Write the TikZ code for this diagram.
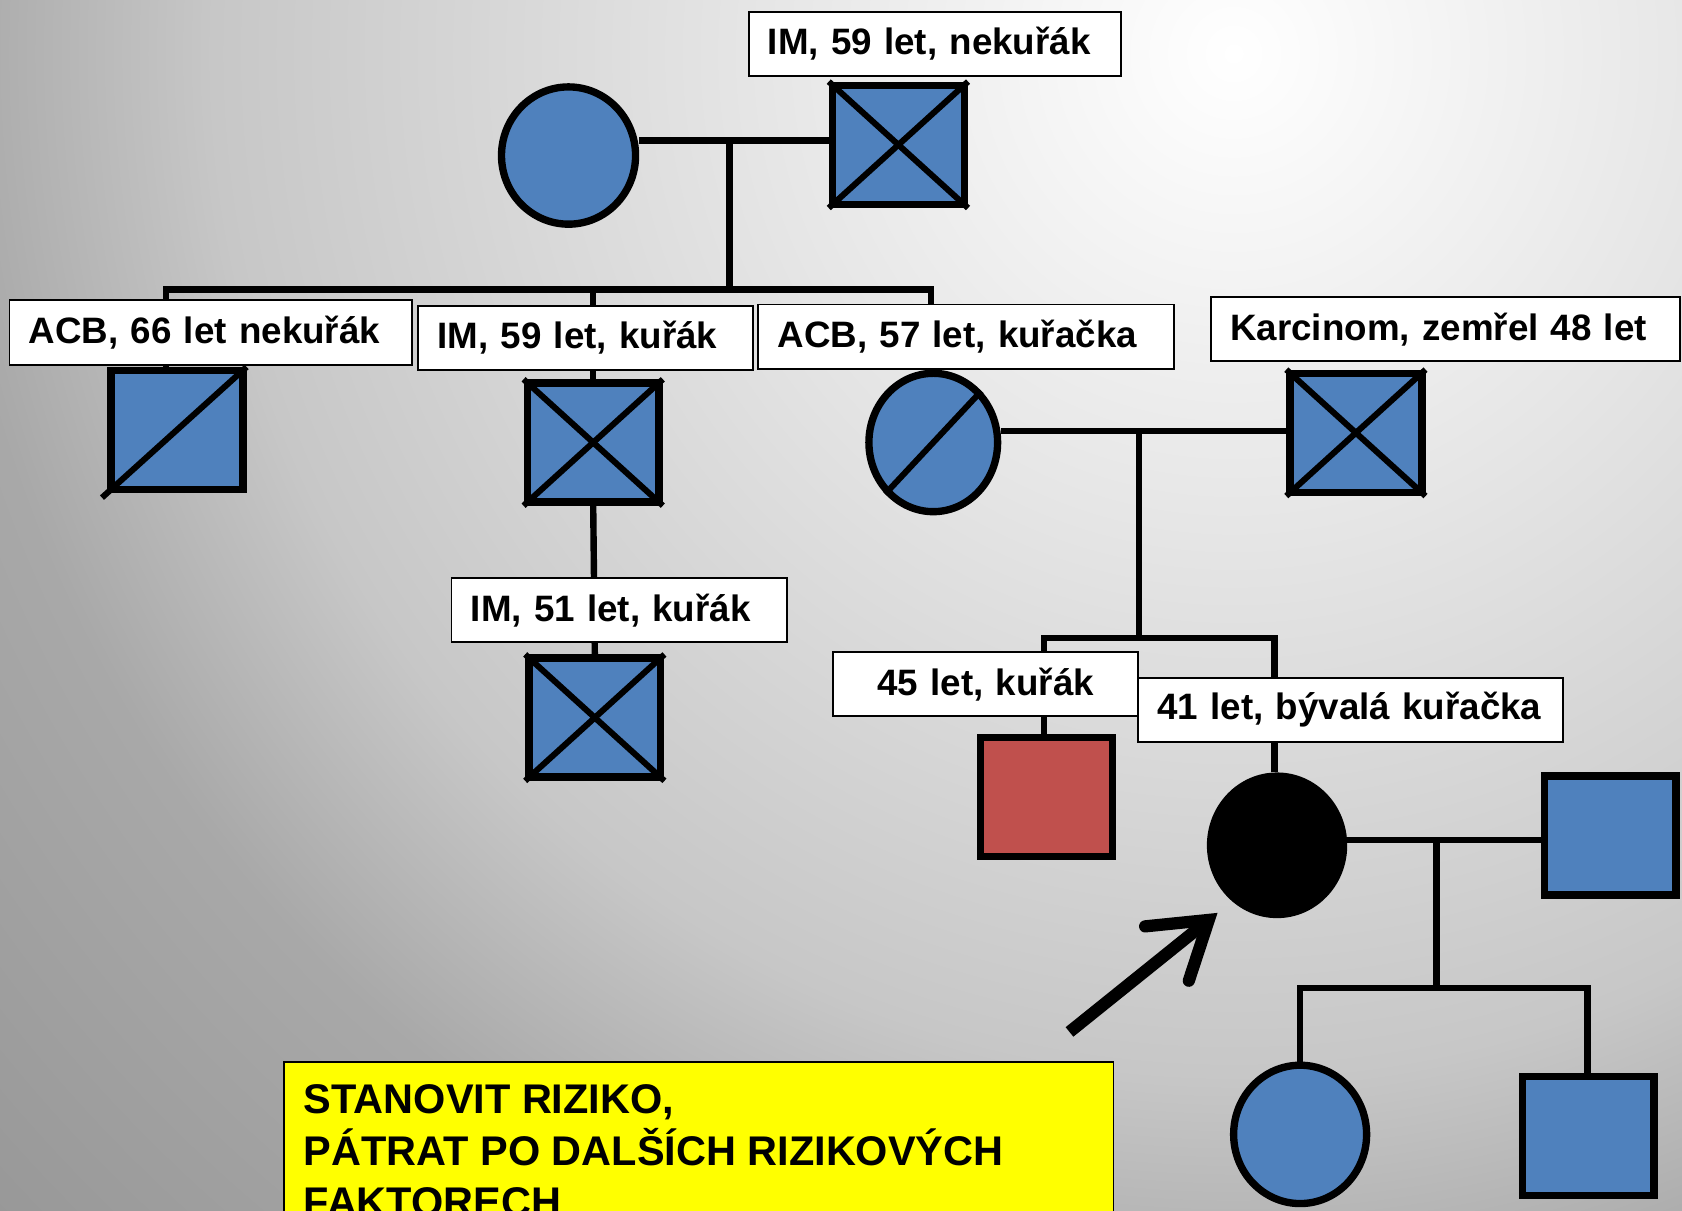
\documentclass[tikz,border=0pt]{standalone}
\usepackage{fontspec}
\setmainfont{Liberation Sans}
\usetikzlibrary{shapes.geometric, arrows.meta}
\definecolor{symblue}{HTML}{4F81BD}
\definecolor{symred}{HTML}{C0504D}
\definecolor{notey}{HTML}{FFFF00}
\pgfdeclareradialshading{bgshade}{\pgfpoint{0bp}{0bp}}{color(0bp)=(white); color(5.6bp)=(black!10); color(11.9bp)=(black!22); color(15bp)=(black!34); color(21bp)=(black!42); color(50bp)=(black!45)}
\tikzstyle{male} = [rectangle, draw=black, line width=3.9pt, fill=symblue, inner sep=0pt, minimum width=2.46cm, minimum height=2.22cm]
\tikzstyle{female} = [ellipse, draw=black, line width=3.9pt, fill=symblue, inner sep=0pt, minimum width=2.48cm, minimum height=2.58cm]
\tikzstyle{lab} = [rectangle, draw=black, line width=1pt, fill=white, anchor=north west, minimum height=1.2cm, inner xsep=0.36cm, inner ysep=0pt, align=left, font=\fontsize{19.5}{23}\selectfont\bfseries]
\tikzstyle{conn} = [line width=3.4pt]
\tikzstyle{cross} = [line width=3.2pt]
\tikzstyle{pointer} = [line width=6.5pt, -{Straight Barb[length=1cm, width=1.3cm, line cap=round, line join=miter]}]

\begin{document}
\begin{tikzpicture}[x=0.02cm, y=-0.02cm]
	\useasboundingbox (0,0) rectangle (1568,1128);
	\begin{scope}
		\clip (0,0) rectangle (1568,1128);
		\shade [shading=bgshade] (1150,50) circle (2000);
	\end{scope}
	\node (matka) [female, minimum width=2.5cm, minimum height=2.56cm] at (530,145) {};
	\node (otec) [male] at (837.5,135) {};
	\node (acb66) [male] at (165,401) {};
	\node (im59) [male] at (553,412.5) {};
	\node (im51) [male] at (554.5,669) {};
	\node (acb57) [female, minimum width=2.4cm] at (870,412.5) {};
	\node (karc) [male] at (1264,403.5) {};
	\node (bratr) [male, fill=symred] at (975.5,743) {};
	\node (proband) [female, fill=black] at (1190.5,788) {};
	\node (manzel) [male] at (1501,779) {};
	\node (dcera) [female] at (1212,1057.5) {};
	\node (syn) [male] at (1480.5,1059) {};
	\draw [cross] (otec.north west) -- (otec.south east);
	\draw [cross] (otec.south west) -- (otec.north east);
	\draw [cross] (im59.north west) -- (im59.south east);
	\draw [cross] (im59.south west) -- (im59.north east);
	\draw [cross] (im51.north west) -- (im51.south east);
	\draw [cross] (im51.south west) -- (im51.north east);
	\draw [cross] (karc.north west) -- (karc.south east);
	\draw [cross] (karc.south west) -- (karc.north east);
	\draw [cross] ([shift={(-5,4)}]acb66.south west) -- (acb66.north east);
	\draw [cross] (acb57.south west) -- (acb57.north east);
	\coordinate (m1) at (680,131);
	\coordinate (s1) at (680,270);
	\coordinate (s1l) at (155,270);
	\coordinate (s1r) at (868,270);
	\coordinate (m2) at (1062,402);
	\coordinate (s2) at (1062,595);
	\coordinate (s2l) at (973,595);
	\coordinate (s2r) at (1188,595);
	\coordinate (m3) at (1339,783);
	\coordinate (s3) at (1339,921);
	\coordinate (s3l) at (1212,921);
	\coordinate (s3r) at (1480,921);
	\coordinate (ptail) at (997,962);
	\coordinate (ptip) at (1135,851);
	\draw [conn] (matka.east |- m1) -- (otec.west |- m1);
	\draw [conn] (m1) -- (s1);
	\draw [conn] (s1l |- acb66.north) -- (s1l) -- (s1r) -- (s1r |- acb57.north);
	\draw [conn] (im59.north |- s1) -- (im59.north);
	\draw [conn] (im59.south) -- (im51.north);
	\draw [conn] (acb57.east |- m2) -- (karc.west |- m2);
	\draw [conn] (m2) -- (s2);
	\draw [conn] (s2l |- bratr.north) -- (s2l) -- (s2r) -- (s2r |- proband.north);
	\draw [conn] (proband.east |- m3) -- (manzel.west |- m3);
	\draw [conn] (m3) -- (s3);
	\draw [conn] (s3l |- dcera.north) -- (s3l) -- (s3r) -- (s3r |- syn.north);
	\draw [pointer] (ptail) -- (ptip);
	\node (l_otec) [lab, text width=6.22cm] at (697,10) {IM, 59 let, nekuřák};
	\node (l_acb66) [lab, text width=6.78cm] at (8,279) {ACB, 66 let nekuřák};
	\node (l_im59) [lab, text width=5.52cm] at (389,284) {IM, 59 let, kuřák};
	\node (l_acb57) [lab, text width=7.04cm] at (706,283) {ACB, 57 let, kuřačka};
	\node (l_karc) [lab, text width=8.02cm] at (1128,276) {Karcinom, zemřel 48 let};
	\node (l_im51) [lab, text width=5.54cm] at (420,538) {IM, 51 let, kuřák};
	\node (l_bratr) [lab, text width=4.96cm, align=center] at (776,607) {45 let, kuřák};
	\node (l_prob) [lab, text width=7.2cm] at (1060,631) {41 let, bývalá kuřačka};
	\filldraw [fill=notey, draw=black, line width=1pt] (265,990) rectangle (1038,1250);
	\node (ukol) [anchor=north west, inner sep=0pt, align=left, font=\fontsize{22}{27.2}\selectfont\bfseries] at (283,1011) {STANOVIT RIZIKO,\\PÁTRAT PO DALŠÍCH RIZIKOVÝCH\\FAKTORECH};
\end{tikzpicture}
\end{document}
